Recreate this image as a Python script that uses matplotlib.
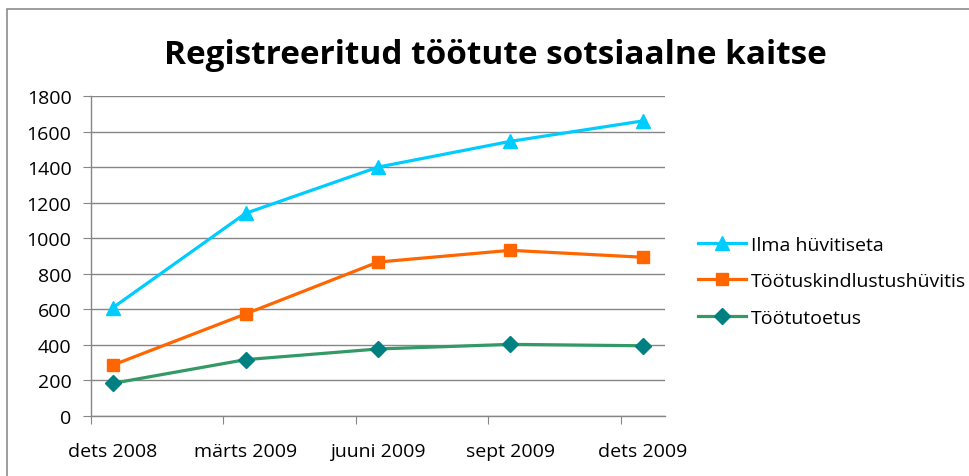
import matplotlib
matplotlib.use("Agg")
import matplotlib.pyplot as plt
from matplotlib.patches import Rectangle

categories = ["dets 2008", "märts 2009", "juuni 2009", "sept 2009", "dets 2009"]
month_pos = [0.5, 3.5, 6.5, 9.5, 12.5]   # month index on a Dec-2008..Dec-2009 date axis
ilma = [610, 1140, 1400, 1545, 1660]
kindlustus = [287, 574, 866, 932, 893]
toetus = [184, 317, 377, 403, 395]
series_names = ["Ilma hüvitiseta", "Töötuskindlustushüvitis", "Töötutoetus"]
yticks = list(range(0, 2000, 200))

FONT = "Open Sans"
W, H = 970, 477
fig = plt.figure(figsize=(W / 100, H / 100), dpi=100)
fig.patch.set_facecolor("white")

# outer chart border (cropped)
fig.add_artist(Rectangle((7 / W, -0.1), 1.2, 1 - 10 / H + 0.1, transform=fig.transFigure,
                         fill=False, edgecolor="#8c8c8c", linewidth=1.2))

left, right, top, bottom = 91, 665, 97, 417
ax = fig.add_axes([left / W, 1 - bottom / H, (right - left) / W, (bottom - top) / H])

ax.plot(month_pos, ilma, color="#00CCFF", lw=2.3, marker="^", ms=10, mfc="#00CCFF", mec="#00CCFF",
        label=series_names[0], clip_on=False, zorder=3)
ax.plot(month_pos, kindlustus, color="#FF6600", lw=2.3, marker="s", ms=8, mfc="#FF6600", mec="#FF6600",
        label=series_names[1], clip_on=False, zorder=3)
ax.plot(month_pos, toetus, color="#339966", lw=2.3, marker="D", ms=8.5, mfc="#008080", mec="#008080",
        label=series_names[2], clip_on=False, zorder=3)

ax.set_xlim(0, 13)
ax.set_ylim(0, 1800)
ax.set_yticks(yticks)
ax.set_yticklabels([str(v) for v in yticks], fontfamily=FONT, fontsize=14)
ax.set_xticks([0, 3, 6, 9, 12])
ax.set_xticklabels([])
ax.set_xticks(month_pos, minor=True)
ax.set_xticklabels(categories, minor=True, fontfamily=FONT, fontsize=14)
ax.tick_params(axis="x", which="minor", length=0, pad=19)
ax.tick_params(axis="x", which="major", length=6, color="#868686", direction="out")
ax.tick_params(axis="y", length=6, color="#868686", direction="out", pad=8)
ax.grid(axis="y", color="#868686", lw=1)
ax.set_axisbelow(True)
for s in ["top", "right"]:
    ax.spines[s].set_visible(False)
for s in ["left", "bottom"]:
    ax.spines[s].set_color("#868686")
    ax.spines[s].set_linewidth(1)

fig.text(495 / W, 1 - 55 / H, "Registreeritud töötute sotsiaalne kaitse", ha="center", va="center",
         fontfamily=FONT, fontweight="bold", fontsize=24)

leg = fig.legend(loc="upper left", bbox_to_anchor=(690 / W, 1 - 229 / H), frameon=False,
                 prop={"family": FONT, "size": 14}, handlelength=2.5, handletextpad=0.25,
                 labelspacing=0.95, borderaxespad=0)

fig.savefig("out.png", dpi=100)
